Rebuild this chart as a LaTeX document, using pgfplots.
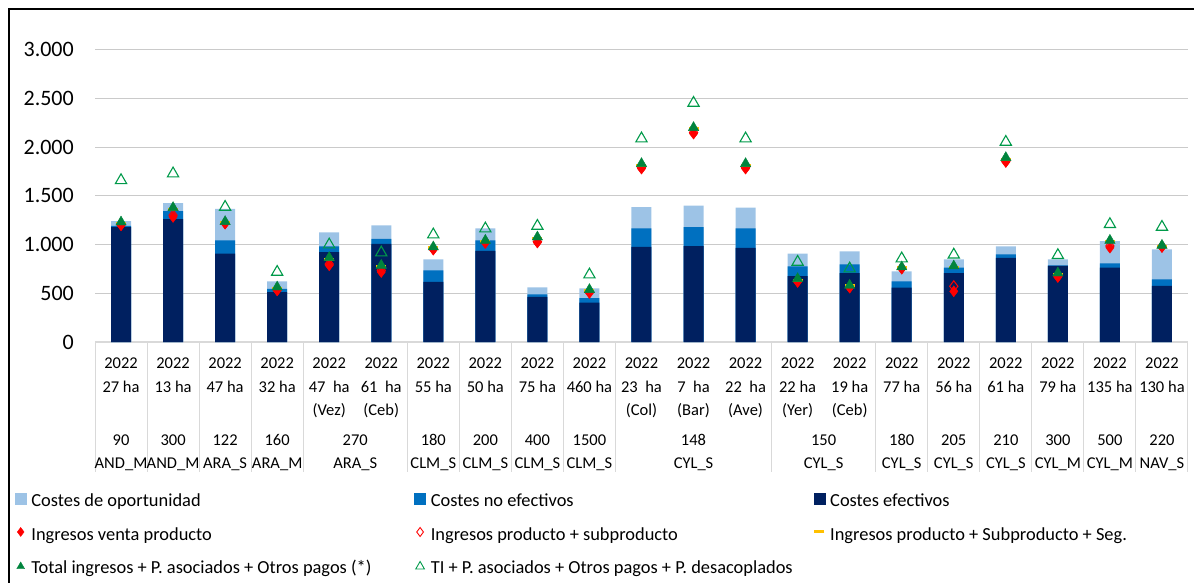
\documentclass[border=0pt]{standalone}
\usepackage{pgfplots}
\pgfplotsset{compat=1.18}
\usepackage{pgfplotstable}
\usepackage{fontspec}
\setmainfont{Carlito}
\definecolor{cop}{HTML}{9DC3E6}
\definecolor{cne}{HTML}{0070C0}
\definecolor{cef}{HTML}{002060}
\definecolor{gridc}{HTML}{CACACA}
\definecolor{sepc}{HTML}{D9D9D9}
\definecolor{ylw}{HTML}{FFC000}
\definecolor{gf}{HTML}{00843D}
\definecolor{go}{HTML}{009A4A}

\newcommand\catfont{\fontsize{16.5}{20}\selectfont}
\newcommand\leg[1]{\makebox[384pt][l]{\hspace{3pt}\rule[-12pt]{0pt}{40pt}#1}}
\newcommand\bb{\path (0pt,-10.5pt) (0pt,12.5pt);}
\newcommand\ctop[3]{%
 \node[font=\catfont,anchor=base,yshift=-26.3pt] at (axis cs:#1,0) {2022};
 \node[font=\catfont,anchor=base,yshift=-50.3pt] at (axis cs:#1,0) {#2};
 \node[font=\catfont,anchor=base,yshift=-73.3pt] at (axis cs:#1,0) {#3};}
\newcommand\cbot[3]{%
 \node[font=\catfont,anchor=base,yshift=-103.3pt] at (axis cs:#1,0) {#2};
 \node[font=\catfont,anchor=base,yshift=-126.3pt] at (axis cs:#1,0) {#3};}

\pgfplotstableread{
x  E    EN   T    R    D    Y    G    TI
0  1180 1192 1240 1197 1205 1220 1231 1659
1  1262 1344 1426 1283 1300 1361 1379 1728
2  907  1043 1365 1215 1220 1222 1235 1385
3  513  544  623  530  535  545  564  718
4  923  982  1125 787  800  842  866  999
5  1006 1057 1197 718  735  777  787  917
6  616  736  849  948  955  965  975  1102
7  934  1043 1167 1016 1025 1030 1043 1163
8  462  489  561  1020 1030 1060 1077 1190
9  404  451  551  503  515  525  538  691
10 975  1167 1385 1779 1790 1815 1830 2087
11 985  1180 1399 2138 2150 2190 2200 2452
12 965  1167 1379 1779 1790 1815 1830 2087
13 677  777  907  616  625  630  650  821
14 708  797  931  558  565  575  582  753
15 558  623  725  753  758  765  770  856
16 708  763  849  520  572  765  780  895
17 862  900  982  1847 1855 1870 1892 2052
18 780  787  849  667  675  688  708  890
19 763  807  1036 968  985  1029 1043 1208
20 575  643  951  975  980  985  992  1180
}\data

\begin{document}
\begin{tikzpicture}
\useasboundingbox (0pt,0pt) rectangle (1194pt,-582pt);
\begin{axis}[
  at={(95pt,-342pt)}, anchor=south west,
  scale only axis, width=1093pt, height=292.4pt,
  xmin=-0.5, xmax=20.5, ymin=0, ymax=3000,
  clip=false,
  axis line style={draw=none},
  xtick=\empty,
  ytick={0,500,...,3000},
  major tick length=0pt,
  ymajorgrids, grid style={gridc, line width=1.1pt},
  /pgf/number format/.cd, 1000 sep={.}, assume math mode=true,
  /pgfplots/.cd,
  yticklabel style={font=\fontsize{22}{26}\selectfont, anchor=east, inner sep=0pt, xshift=-21pt},
  legend columns=3,
  legend cell align=left,
  legend style={at={(axis description cs:-0.0732,-0.4607)}, anchor=north west,
    draw=none, fill=none, inner sep=0pt, outer sep=0pt,
    column sep=0pt, row sep=0pt,
    font=\fontsize{18.4}{22}\selectfont},
]
% separators and axis line
\pgfplotsinvokeforeach{-0.5,0.5,1.5,2.5,3.5,5.5,6.5,7.5,8.5,9.5,12.5,14.5,15.5,16.5,17.5,18.5,19.5,20.5}{
  \draw[sepc, line width=1pt] (axis cs:#1,0) -- ([yshift=-130pt]axis cs:#1,0);
}
\draw[sepc, line width=1.2pt] (axis cs:-0.5,0) -- (axis cs:20.5,0);

% bars (cumulative tops)
\addplot[ybar, bar width=20pt, bar shift=0pt, fill=cop, draw=none, forget plot] table[x=x,y=T]{\data};
\addplot[ybar, bar width=20pt, bar shift=0pt, fill=cne, draw=none, forget plot] table[x=x,y=EN]{\data};
\addplot[ybar, bar width=20pt, bar shift=0pt, fill=cef, draw=none, forget plot] table[x=x,y=E]{\data};

% markers
\addplot[only marks, mark=diamond*, mark size=5.5pt, draw=red, fill=red, forget plot] table[x=x,y=R]{\data};
\addplot[only marks, mark=diamond, mark size=5.5pt, mark options={draw=red, fill=none, line width=1pt}, forget plot] table[x=x,y=D]{\data};
\addplot[only marks, mark=-, mark size=5pt, mark options={draw=ylw, line width=3pt}, forget plot] table[x=x,y=Y]{\data};
\addplot[only marks, mark=triangle*, mark size=6pt, draw=gf, fill=gf, forget plot] table[x=x,y=G]{\data};
\addplot[only marks, mark=triangle, mark size=6.5pt, mark options={draw=go, fill=none, line width=1.1pt}, forget plot] table[x=x,y=TI]{\data};

% legend
\addlegendimage{legend image code/.code={\bb\fill[cop] (0pt,-10.5pt) rectangle (11pt,0.5pt);}}
\addlegendentry{\leg{Costes de oportunidad}}
\addlegendimage{legend image code/.code={\bb\fill[cne] (0pt,-10.5pt) rectangle (11pt,0.5pt);}}
\addlegendentry{\leg{Costes no efectivos}}
\addlegendimage{legend image code/.code={\bb\fill[cef] (0pt,-10.5pt) rectangle (11pt,0.5pt);}}
\addlegendentry{\leg{Costes efectivos}}
\addlegendimage{legend image code/.code={\bb\path[only marks, mark=diamond*, mark size=4.5pt, draw=red, fill=red] plot coordinates {(5.5pt,-5pt)};}}
\addlegendentry{\leg{Ingresos venta producto}}
\addlegendimage{legend image code/.code={\bb\path[only marks, mark=diamond, mark size=4.5pt, mark options={draw=red, fill=none, line width=0.9pt}] plot coordinates {(5.5pt,-5pt)};}}
\addlegendentry{\leg{Ingresos producto + subproducto}}
\addlegendimage{legend image code/.code={\bb\path[only marks, mark=-, mark size=5pt, mark options={draw=ylw, line width=3pt}] plot coordinates {(5.5pt,-5pt)};}}
\addlegendentry{\leg{Ingresos producto + Subproducto + Seg.}}
\addlegendimage{legend image code/.code={\bb\path[only marks, mark=triangle*, mark size=4.5pt, draw=gf, fill=gf] plot coordinates {(5.5pt,-6pt)};}}
\addlegendentry{\leg{Total ingresos + P. asociados + Otros pagos (*)}}
\addlegendimage{legend image code/.code={\bb\path[only marks, mark=triangle, mark size=5pt, mark options={draw=go, fill=none, line width=0.9pt}] plot coordinates {(5.5pt,-6pt)};}}
\addlegendentry{\leg{TI + P. asociados + Otros pagos + P. desacoplados}}

% category labels
\ctop{0}{27 ha}{}
\ctop{1}{13 ha}{}
\ctop{2}{47 ha}{}
\ctop{3}{32 ha}{}
\ctop{4}{47\ \ ha}{(Vez)}
\ctop{5}{61\ \ ha}{(Ceb)}
\ctop{6}{55 ha}{}
\ctop{7}{50 ha}{}
\ctop{8}{75 ha}{}
\ctop{9}{460 ha}{}
\ctop{10}{23\ \ ha}{(Col)}
\ctop{11}{7\ \ ha}{(Bar)}
\ctop{12}{22\ \ ha}{(Ave)}
\ctop{13}{22 ha}{(Yer)}
\ctop{14}{19 ha}{(Ceb)}
\ctop{15}{77 ha}{}
\ctop{16}{56 ha}{}
\ctop{17}{61 ha}{}
\ctop{18}{79 ha}{}
\ctop{19}{135 ha}{}
\ctop{20}{130 ha}{}
\cbot{0}{90}{AND\_M}
\cbot{1}{300}{AND\_M}
\cbot{2}{122}{ARA\_S}
\cbot{3}{160}{ARA\_M}
\cbot{4.5}{270}{ARA\_S}
\cbot{6}{180}{CLM\_S}
\cbot{7}{200}{CLM\_S}
\cbot{8}{400}{CLM\_S}
\cbot{9}{1500}{CLM\_S}
\cbot{11}{148}{CYL\_S}
\cbot{13.5}{150}{CYL\_S}
\cbot{15}{180}{CYL\_S}
\cbot{16}{205}{CYL\_S}
\cbot{17}{210}{CYL\_S}
\cbot{18}{300}{CYL\_M}
\cbot{19}{500}{CYL\_M}
\cbot{20}{220}{NAV\_S}
\end{axis}
\draw[black, line width=2.2pt] (9pt,-600pt) -- (9pt,-9pt) -- (1200pt,-9pt);
\end{tikzpicture}
\end{document}
